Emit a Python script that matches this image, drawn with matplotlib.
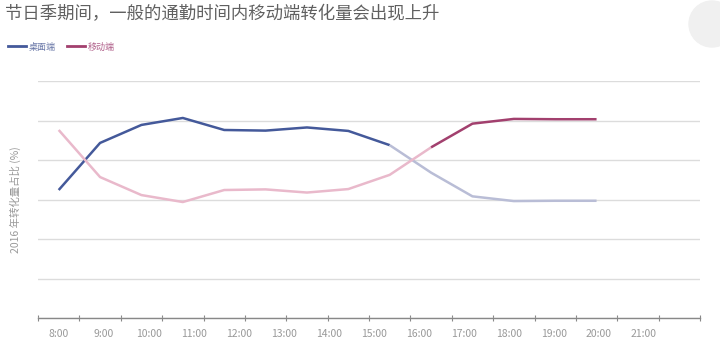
import numpy as np
import matplotlib
matplotlib.use("Agg")
import matplotlib.pyplot as plt
from matplotlib.lines import Line2D
from matplotlib.patches import Ellipse

plt.rcParams['font.family'] = ['Noto Sans CJK SC', 'DejaVu Sans']

hours = ["8:00", "9:00", "10:00", "11:00", "12:00", "13:00", "14:00",
         "15:00", "16:00", "17:00", "18:00", "19:00", "20:00", "21:00"]
# share of conversions (%) per hour
desktop = [40.5, 55.4, 61.1, 63.3, 59.5, 59.3, 60.3, 59.2, 54.7, 46.0, 38.5, 37.0, 37.1, 37.1]
mobile = [59.5, 44.6, 38.9, 36.7, 40.5, 40.7, 39.7, 40.8, 45.3, 54.0, 61.5, 63.0, 62.9, 62.9]

x = np.arange(len(hours))
split_d = 8   # desktop fades after 16:00
split_m = 9   # mobile turns dark after 17:00

fig = plt.figure(figsize=(7.2, 3.56), dpi=100)
ax = fig.add_axes([38/720, 1-318/356, 662/720, (318-81)/356])

ax.plot(x[:split_d+1], desktop[:split_d+1], color='#44599a', lw=1.8, solid_capstyle='butt')
ax.plot(x[split_d:], desktop[split_d:], color='#b9bdd6', lw=1.8, solid_capstyle='butt')
ax.plot(x[:split_m+1], mobile[:split_m+1], color='#e9b9cb', lw=1.8, solid_capstyle='butt')
ax.plot(x[split_m:], mobile[split_m:], color='#a2406e', lw=1.8, solid_capstyle='butt')

ax.set_xlim(-0.5, 15.5)
ax.set_ylim(0, 75)
ax.set_yticks(np.arange(0, 76, 12.5))
ax.yaxis.grid(True, color='#dcdcdc', lw=1)
ax.set_axisbelow(True)
ax.tick_params(axis='y', length=0, labelleft=False)

ax.set_xticks(np.arange(-0.5, 16, 1))
ax.set_xticklabels([])
ax.tick_params(axis='x', direction='inout', length=4, color='#888888', width=0.8)
label_step = 1.088
ax.set_xticks(x * label_step, minor=True)
ax.set_xticklabels(hours, minor=True)
ax.tick_params(axis='x', which='minor', length=0, pad=8, labelsize=7.5, labelcolor='#999999')

for s in ['top', 'right', 'left']:
    ax.spines[s].set_visible(False)
ax.spines['bottom'].set_color('#888888')
ax.spines['bottom'].set_linewidth(1)

ax.set_ylabel('2016 年转化量占比 (%)', fontsize=7.5, color='#999999', labelpad=12)

fig.text(5/720, 1-14/356, '节日季期间，一般的通勤时间内移动端转化量会出现上升',
         fontsize=12.5, color='#606060', va='center', ha='left')

handles = [Line2D([], [], color='#44599a', lw=2), Line2D([], [], color='#a2406e', lw=2)]
leg = fig.legend(handles, ['桌面端', '移动端'], loc='center left', bbox_to_anchor=(0.0, 1-47/356),
                 ncol=2, frameon=False, fontsize=6.5, handlelength=2.0, handletextpad=0.3,
                 columnspacing=1.2)
for t, c in zip(leg.get_texts(), ['#6a78a8', '#b0608a']):
    t.set_color(c)

fig.patches.append(Ellipse((712/720, 1-24/356), 46/720, 46/356, transform=fig.transFigure,
                           color='#f0f0f0', zorder=0))

fig.savefig('out.png', dpi=100, facecolor='white')
